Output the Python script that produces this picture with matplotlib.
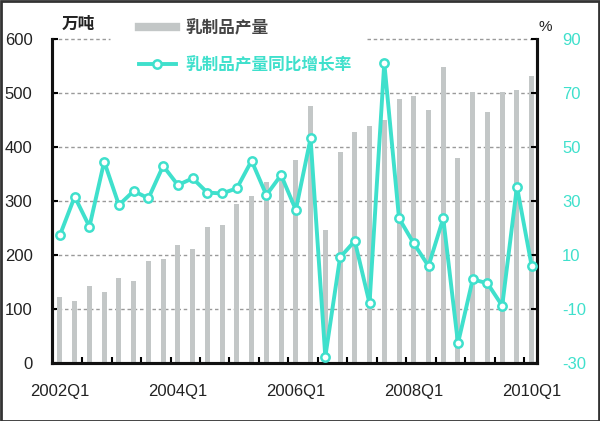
import matplotlib
matplotlib.use("Agg")
import matplotlib.pyplot as plt
from matplotlib.lines import Line2D
from matplotlib.patches import Rectangle
from matplotlib import font_manager

# ---- data ----
quarters = [f"{y}Q{q}" for y in range(2002, 2011) for q in range(1, 5)][:33]
production = [122, 115, 142, 132, 158, 152, 189, 192, 219, 212, 252, 256, 295, 309,
              335, 340, 376, 476, 246, 391, 428, 439, 450, 488, 494, 468, 548, 379,
              502, 465, 502, 506, 532]
growth = [17.4, 31.6, 20.5, 44.6, 28.5, 33.7, 31.0, 43.0, 35.9, 38.4, 33.1, 32.8,
          34.7, 44.9, 32.2, 39.6, 26.7, 53.2, -27.7, 9.1, 15.2, -7.9, 81.2, 23.6,
          14.3, 5.9, 23.6, -22.7, 1.0, -0.5, -8.8, 35.3, 5.9]
label_quarters = ["2002Q1", "2004Q1", "2006Q1", "2008Q1", "2010Q1"]
left_ticks = [0, 100, 200, 300, 400, 500, 600]
right_ticks = [-30, -10, 10, 30, 50, 70, 90]
series_names = ["乳制品产量", "乳制品产量同比增长率"]

names = {f.name for f in font_manager.fontManager.ttflist}
num_font = [f for f in ["Liberation Sans Narrow", "Liberation Sans", "DejaVu Sans"] if f in names]
cjk_font = ["Noto Sans CJK SC", "DejaVu Sans"]

BAR_C = "#c3c7c7"
LINE_C = "#3fe0cc"
GRID_KW = dict(color="#9a9a9a", lw=1.0, ls=(0, (2.5, 2)), zorder=1, clip_on=False)

fig = plt.figure(figsize=(6.0, 4.21), dpi=100)
ax = fig.add_axes([52/600, 1-363/421, (537-52)/600, (363-39)/421])
ax2 = ax.twinx()

x = list(range(len(quarters)))
ax.bar(x, production, width=0.34, color=BAR_C, zorder=2)
ax.set_ylim(0, 600)
ax.set_xlim(-0.54, 32.36)

ax2.plot(x, growth, color=LINE_C, lw=2.8, marker="o", ms=6, mfc="white",
         mec=LINE_C, mew=1.8, zorder=3)
ax2.set_ylim(-30, 90)

# grid (top line is interrupted by the legend area)
for v in left_ticks[1:-1]:
    ax.axhline(v, **GRID_KW)
ax.axhline(left_ticks[-1], xmin=0, xmax=(110-52)/485, **GRID_KW)
ax.axhline(left_ticks[-1], xmin=(367-52)/485, xmax=1, **GRID_KW)

# spines
for a in (ax, ax2):
    a.spines["top"].set_visible(False)
    for s in ("left", "right", "bottom"):
        a.spines[s].set_linewidth(2.2)
        a.spines[s].set_color("#111111")

ax.set_yticks(left_ticks)
ax.set_yticklabels([str(v) for v in left_ticks], family=num_font, fontsize=12, color="#222222")
ax.tick_params(axis="y", direction="in", length=4, width=1.5, pad=14)
ax2.set_yticks(right_ticks)
ax2.set_yticklabels([str(v) for v in right_ticks], family=num_font, fontsize=12, color=LINE_C)
ax2.tick_params(axis="y", direction="in", length=4, width=1.5, pad=18)

ax.set_xticks([quarters.index(q) for q in label_quarters])
ax.set_xticklabels(label_quarters, family=num_font, fontsize=12, color="#222222")
ax.set_xticks([i + 0.5 for i in range(1, 32, 2)], minor=True)
ax.tick_params(axis="x", which="major", length=0, pad=15)
ax.tick_params(axis="x", which="minor", direction="in", length=4, width=1.5)

# unit labels
fig.text(62/600, 1-24/421, "万吨", family=cjk_font, fontsize=12, fontweight="bold",
         color="#222222", ha="left", va="center")
fig.text(545/600, 1-27/421, "%", family=num_font, fontsize=11, color="#222222",
         ha="center", va="center")

# legend
h1 = Line2D([], [], color=BAR_C, lw=6)
h2 = Line2D([], [], color=LINE_C, lw=2.8, marker="o", ms=6, mfc="white", mec=LINE_C, mew=1.8)
leg = ax2.legend([h1, h2], series_names, loc="upper left",
                 bbox_to_anchor=(134/600, 1-14/421), bbox_transform=fig.transFigure,
                 frameon=False,
                 prop={"family": cjk_font, "size": 12, "weight": "bold"},
                 labelspacing=1.15, handlelength=2.2, handletextpad=0.6,
                 borderpad=0.3, borderaxespad=0)
leg.get_texts()[0].set_color("#444444")
leg.get_texts()[1].set_color(LINE_C)
leg.set_zorder(10)

# outer frame
fig.patches.append(Rectangle((0.001, 0.001), 0.997, 0.997, transform=fig.transFigure,
                             fill=False, edgecolor="#333333", lw=2))

fig.savefig("out.png", dpi=100, facecolor="white")
